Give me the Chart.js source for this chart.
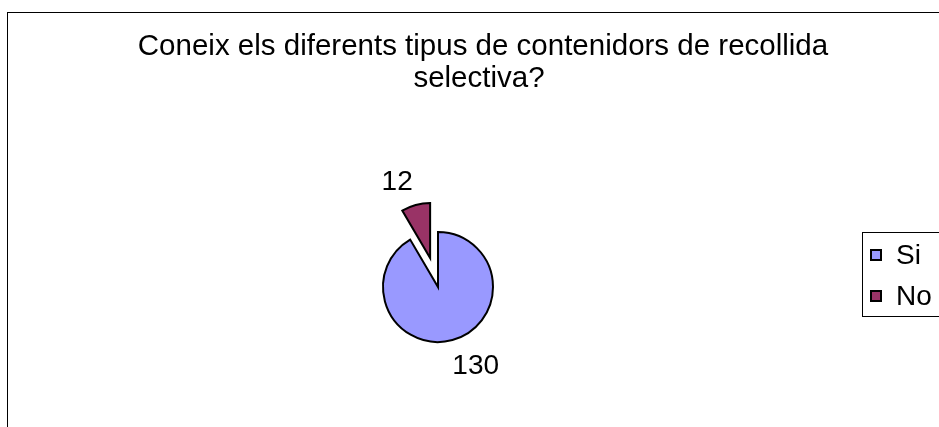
<!DOCTYPE html>
<html>
<head>
<meta charset="utf-8">
<script src="https://cdn.jsdelivr.net/npm/chart.js@4/dist/chart.umd.min.js"></script>
<style>
html,body{margin:0;padding:0;background:#fff;}
#wrap{width:939px;height:427px;position:relative;}
</style>
</head>
<body>
<div id="wrap"><canvas id="c" width="939" height="427"></canvas></div>
<script>
const titleLines = ["Coneix els diferents tipus de contenidors de recollida", "selectiva?"];
const categories = ["Si", "No"];
const values = [130, 12];
const colors = ["#9999FF", "#993366"];
const explode = [0, 30];

const FONT = '"Liberation Sans", Arial, sans-serif';

function midAngle(p) { return (p.startAngle + p.endAngle) / 2; }

const decor = {
  id: 'decor',
  beforeDraw(chart) {
    const ctx = chart.ctx;
    ctx.save();
    ctx.fillStyle = '#fff';
    ctx.fillRect(0, 0, chart.width, chart.height);
    ctx.strokeStyle = '#000';
    ctx.lineWidth = 1;
    ctx.strokeRect(7.5, 12.5, 1000, 1000);
    ctx.fillStyle = '#000';
    ctx.font = '29.5px ' + FONT;
    ctx.textAlign = 'center';
    ctx.textBaseline = 'alphabetic';
    ctx.fillText(titleLines[0], 483, 55);
    ctx.fillText(titleLines[1], 479, 87);
    ctx.restore();
  },
  beforeDatasetDraw(chart, args) {
    const ctx = chart.ctx;
    const meta = chart.getDatasetMeta(args.index);
    meta.data.forEach((arc, i) => {
      const p = arc.getProps(['startAngle','endAngle'], true);
      const m = midAngle(p);
      ctx.save();
      ctx.translate(Math.cos(m) * explode[i], Math.sin(m) * explode[i]);
      arc.draw(ctx);
      ctx.restore();
    });
    return false;
  },
  afterDraw(chart) {
    const ctx = chart.ctx;
    ctx.save();
    // legend
    ctx.strokeStyle = '#000';
    ctx.lineWidth = 1;
    ctx.fillStyle = '#fff';
    ctx.fillRect(862.5, 232.5, 200, 84);
    ctx.strokeRect(862.5, 232.5, 200, 84);
    ctx.font = '28px ' + FONT;
    ctx.textBaseline = 'alphabetic';
    ctx.textAlign = 'left';
    const ys = [255, 296];
    categories.forEach((c, i) => {
      ctx.fillStyle = colors[i];
      ctx.fillRect(871, ys[i] - 5, 10, 10);
      ctx.lineWidth = 2;
      ctx.strokeStyle = '#000';
      ctx.strokeRect(871, ys[i] - 5, 10, 10);
      ctx.fillStyle = '#000';
      ctx.fillText(c, 896, ys[i] + 9);
    });
    // data labels (outside end, box corner anchored)
    const meta = chart.getDatasetMeta(0);
    ctx.font = '28px ' + FONT;
    meta.data.forEach((arc, i) => {
      const p = arc.getProps(['x','y','startAngle','endAngle','outerRadius'], true);
      const m = midAngle(p);
      const cx = p.x + Math.cos(m) * explode[i];
      const cy = p.y + Math.sin(m) * explode[i];
      const d = p.outerRadius + 15;
      const px = cx + Math.cos(m) * d;
      const py = cy + Math.sin(m) * d;
      ctx.textAlign = Math.cos(m) >= 0 ? 'left' : 'right';
      const base = Math.sin(m) >= 0 ? py + 19 : py - 1;
      ctx.fillStyle = '#000';
      ctx.fillText(String(values[i]), Math.cos(m) >= 0 ? px - 4 : px + 1, base);
    });
    ctx.restore();
  }
};

new Chart(document.getElementById('c'), {
  type: 'pie',
  data: {
    labels: categories,
    datasets: [{
      data: values,
      backgroundColor: colors,
      borderColor: '#000',
      borderWidth: 2,
      borderJoinStyle: 'miter',
      radius: 55
    }]
  },
  options: {
    responsive: false,
    animation: false,
    layout: { padding: { left: 0, right: 63, top: 147, bottom: 0 } },
    plugins: {
      legend: { display: false },
      title: { display: false },
      tooltip: { enabled: false }
    }
  },
  plugins: [decor]
});
</script>
</body>
</html>
